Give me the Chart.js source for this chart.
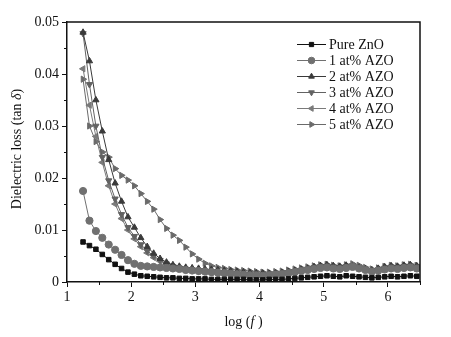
<!DOCTYPE html>
<html>
<head>
<meta charset="utf-8">
<script src="https://cdn.jsdelivr.net/npm/chart.js@4"></script>
<style>
  html, body { margin: 0; padding: 0; background: #fff; }
  #wrap { width: 451px; height: 337px; }
</style>
</head>
<body>
<div id="wrap"><canvas id="loss" width="451" height="337"></canvas></div>
<script>
var logF = [1.25, 1.35, 1.45, 1.55, 1.65, 1.75, 1.85, 1.95, 2.05, 2.15, 2.25, 2.35, 2.45, 2.55, 2.65, 2.75, 2.85, 2.95,
            3.05, 3.15, 3.25, 3.35, 3.45, 3.55, 3.65, 3.75, 3.85, 3.95, 4.05, 4.15, 4.25, 4.35, 4.45, 4.55, 4.65, 4.75,
            4.85, 4.95, 5.05, 5.15, 5.25, 5.35, 5.45, 5.55, 5.65, 5.75, 5.85, 5.95, 6.05, 6.15, 6.25, 6.35, 6.45];

var pureZnO = [.0077, .0070, .0063, .0053, .0043, .0034, .0026, .0019, .0015, .0012, .0011, .0010, .0009, .0008, .0008, .0007, .0007, .0006,
               .0006, .0006, .0005, .0005, .0005, .0005, .0005, .0005, .0004, .0004, .0004, .0005, .0005, .0005, .0006, .0007, .0008, .0009,
               .0010, .0011, .0012, .0011, .0010, .0012, .0011, .0010, .0009, .0008, .0009, .0010, .0011, .0010, .0011, .0012, .0011];
var azo1 = [.0175, .0118, .0098, .0085, .0072, .0062, .0052, .0042, .0035, .0031, .0030, .0029, .0028, .0027, .0026, .0025, .0023, .0022,
            .0021, .0020, .0019, .0018, .0017, .0016, .0015, .0014, .0013, .0013, .0012, .0013, .0014, .0015, .0017, .0019, .0021, .0023,
            .0025, .0027, .0028, .0026, .0025, .0027, .0029, .0026, .0023, .0020, .0022, .0024, .0026, .0025, .0027, .0028, .0026];
var azo2 = [.0480, .0425, .0350, .0290, .0235, .0190, .0155, .0125, .0105, .0085, .0068, .0055, .0045, .0038, .0033, .0030, .0028, .0027,
            .0026, .0025, .0024, .0023, .0022, .0021, .0020, .0019, .0018, .0017, .0017, .0016, .0017, .0018, .0020, .0022, .0024, .0026,
            .0029, .0031, .0033, .0031, .0030, .0032, .0030, .0028, .0025, .0023, .0026, .0029, .0031, .0030, .0032, .0033, .0031];
var azo3 = [.0478, .0380, .0300, .0240, .0195, .0160, .0130, .0105, .0088, .0072, .0060, .0050, .0042, .0035, .0030, .0027, .0025, .0023,
            .0021, .0020, .0019, .0018, .0017, .0016, .0015, .0014, .0013, .0012, .0012, .0013, .0014, .0016, .0018, .0020, .0023, .0025,
            .0028, .0030, .0031, .0029, .0028, .0030, .0032, .0029, .0025, .0022, .0024, .0027, .0029, .0028, .0030, .0031, .0029];
var azo4 = [.0410, .0340, .0280, .0230, .0185, .0150, .0122, .0100, .0083, .0068, .0056, .0047, .0040, .0034, .0029, .0026, .0024, .0022,
            .0021, .0019, .0018, .0017, .0016, .0015, .0014, .0014, .0013, .0012, .0011, .0012, .0013, .0015, .0017, .0019, .0021, .0024,
            .0026, .0028, .0030, .0028, .0027, .0029, .0031, .0028, .0024, .0021, .0023, .0026, .0028, .0027, .0029, .0030, .0028];
var azo5 = [.0390, .0300, .0270, .0250, .0240, .0218, .0205, .0196, .0185, .0170, .0155, .0140, .0120, .0103, .0090, .0080, .0067, .0054,
            .0044, .0036, .0031, .0028, .0026, .0024, .0023, .0022, .0021, .0020, .0019, .0019, .0020, .0021, .0023, .0025, .0027, .0029,
            .0031, .0033, .0034, .0032, .0031, .0033, .0035, .0032, .0028, .0025, .0027, .0030, .0032, .0031, .0033, .0034, .0032];

var seriesNames = ['Pure ZnO', '1 at% AZO', '2 at% AZO', '3 at% AZO', '4 at% AZO', '5 at% AZO'];
var yTicks = [0, 0.01, 0.02, 0.03, 0.04, 0.05];
var xTicks = [1, 2, 3, 4, 5, 6];

var serif = '"Liberation Serif", "DejaVu Serif", serif';

function pts(vals) {
    return vals.map(function (v, i) { return { x: logF[i], y: v }; });
}

function ds(label, vals, color, style, rot) {
    return {
        label: label,
        data: pts(vals),
        borderColor: color,
        backgroundColor: color,
        borderWidth: 1,
        pointStyle: style,
        pointRotation: rot,
        pointRadius: style === 'rect' ? 3.2 : 3.6,
        pointBorderWidth: 1,
        tension: 0
    };
}

// draw a title made of plain and italic pieces, centred on (x, y)
function mixedText(c, runs, x, y, angle) {
    c.save();
    c.translate(x, y);
    c.rotate(angle);
    var w = 0;
    runs.forEach(function (r) {
        c.font = (r[1] ? 'italic ' : '') + '14px ' + serif;
        w += c.measureText(r[0]).width;
    });
    var px = -w / 2;
    c.textBaseline = 'middle';
    c.textAlign = 'left';
    c.fillStyle = '#111';
    runs.forEach(function (r) {
        c.font = (r[1] ? 'italic ' : '') + '14px ' + serif;
        c.fillText(r[0], px, 0);
        px += c.measureText(r[0]).width;
    });
    c.restore();
}

// frame on top/right, minor ticks, titles and the line+marker legend
var extras = {
    id: 'extras',
    afterDraw: function (chart) {
        var c = chart.ctx, a = chart.chartArea;
        var xs = chart.scales.x, ys = chart.scales.y;
        c.save();
        c.strokeStyle = '#111';
        c.lineWidth = 1.5;
        c.beginPath();
        c.moveTo(a.left, a.top); c.lineTo(a.right, a.top); c.lineTo(a.right, a.bottom);
        c.stroke();
        c.lineWidth = 1;
        c.beginPath();
        for (var v = 0.005; v < 0.05; v += 0.01) {
            var py = Math.round(ys.getPixelForValue(v)) + 0.5;
            c.moveTo(a.left - 3, py); c.lineTo(a.left, py);
        }
        for (var u = 1.5; u < 6.6; u += 1) {
            var px = Math.round(xs.getPixelForValue(u)) + 0.5;
            c.moveTo(px, a.bottom); c.lineTo(px, a.bottom + 3);
        }
        c.stroke();

        mixedText(c, [['log (', false], ['f', true], [' )', false]], (a.left + a.right) / 2, 322, 0);
        mixedText(c, [['Dielectric loss (tan ', false], ['\u03b4', true], [')', false]], 17, 149, -Math.PI / 2);

        // legend
        c.font = '14px ' + serif;
        c.textBaseline = 'middle';
        chart.data.datasets.forEach(function (d, i) {
            var y = 44 + i * 16;
            c.strokeStyle = d.borderColor;
            c.fillStyle = d.backgroundColor;
            c.lineWidth = 1;
            c.beginPath(); c.moveTo(297, y + 0.5); c.lineTo(326, y + 0.5); c.stroke();
            Chart.helpers.drawPoint(c, {
                pointStyle: d.pointStyle, rotation: d.pointRotation,
                radius: d.pointStyle === 'rect' ? 3 : 3.3, borderWidth: 1
            }, 311.5, y + 0.5);
            c.fillStyle = '#111';
            c.fillText(d.label, 329, y + 1);
        });
        c.restore();
    }
};

var ctx = document.getElementById('loss').getContext('2d');
var lossChart = new Chart(ctx, {
    type: 'line',
    data: {
        datasets: [
            ds(seriesNames[0], pureZnO, '#111111', 'rect', 0),
            ds(seriesNames[1], azo1, '#707070', 'circle', 0),
            ds(seriesNames[2], azo2, '#3a3a3a', 'triangle', 0),
            ds(seriesNames[3], azo3, '#626262', 'triangle', 180),
            ds(seriesNames[4], azo4, '#7a7a7a', 'triangle', -90),
            ds(seriesNames[5], azo5, '#6a6a6a', 'triangle', 90)
        ]
    },
    options: {
        responsive: false,
        animation: false,
        layout: { padding: { left: 0, right: 31, top: 22, bottom: 0 } },
        plugins: {
            legend: { display: false },
            tooltip: { enabled: false }
        },
        scales: {
            x: {
                type: 'linear',
                min: 1, max: 6.5,
                afterBuildTicks: function (s) { s.ticks = xTicks.map(function (v) { return { value: v }; }); },
                afterFit: function (s) { s.height = 55; },
                border: { color: '#111', width: 1.5 },
                grid: { drawOnChartArea: false, tickLength: 5, color: '#111' },
                ticks: { color: '#111', font: { family: serif, size: 14 }, padding: 2, maxRotation: 0 }
            },
            y: {
                min: 0, max: 0.05,
                afterBuildTicks: function (s) { s.ticks = yTicks.map(function (v) { return { value: v }; }); },
                afterFit: function (s) { s.width = 67; },
                border: { color: '#111', width: 1.5 },
                grid: { drawOnChartArea: false, tickLength: 5, color: '#111' },
                ticks: {
                    color: '#111', font: { family: serif, size: 14 }, padding: 3,
                    callback: function (v) { return v === 0 ? '0' : v.toFixed(2); }
                }
            }
        }
    },
    plugins: [extras]
});
</script>
</body>
</html>
